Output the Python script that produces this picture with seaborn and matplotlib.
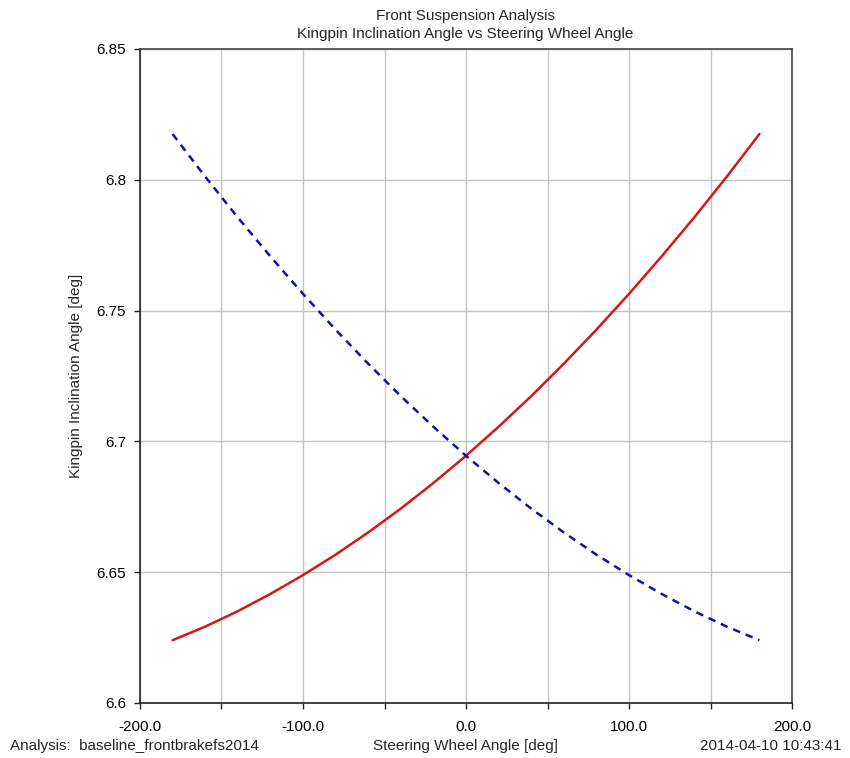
import matplotlib
matplotlib.use("Agg")
import matplotlib.pyplot as plt
import pandas as pd
import seaborn as sns

# steering wheel angle [deg]
steer = [-180, -160, -140, -120, -100, -80, -60, -40, -20, 0,
         20, 40, 60, 80, 100, 120, 140, 160, 180]
# kingpin inclination angle [deg], left (red solid) and right (blue dashed)
kpi_red = [6.6240, 6.6292, 6.6351, 6.6417, 6.6489, 6.6567, 6.6652, 6.6743, 6.6841, 6.6945,
           6.7056, 6.7173, 6.7297, 6.7427, 6.7564, 6.7707, 6.7856, 6.8012, 6.8175]
kpi_blue = [6.8175, 6.8012, 6.7856, 6.7707, 6.7564, 6.7427, 6.7297, 6.7173, 6.7056, 6.6945,
            6.6841, 6.6743, 6.6652, 6.6567, 6.6489, 6.6417, 6.6351, 6.6292, 6.6240]

x_ticks = [-200, -150, -100, -50, 0, 50, 100, 150, 200]
x_labels = ["-200.0", "", "-100.0", "", "0.0", "", "100.0", "", "200.0"]
y_ticks = [6.6, 6.65, 6.7, 6.75, 6.8, 6.85]
y_labels = ["6.6", "6.65", "6.7", "6.75", "6.8", "6.85"]

sns.set_style("white")
plt.rcParams["font.family"] = ["Liberation Sans", "DejaVu Sans"]

df = pd.DataFrame({"steer": steer, "red": kpi_red, "blue": kpi_blue})

fig = plt.figure(figsize=(8.5, 7.58), dpi=100)
ax = fig.add_axes([140 / 850, 55 / 758, 652 / 850, 654 / 758])

sns.lineplot(data=df, x="steer", y="red", ax=ax, color="#d41818", linewidth=1.8)
sns.lineplot(data=df, x="steer", y="blue", ax=ax, color="#1010b0", linewidth=1.8,
             linestyle=(0, (3.0, 2.4)))

ax.set_xlim(-200, 200)
ax.set_ylim(6.6, 6.85)
ax.set_xticks(x_ticks)
ax.set_xticklabels(x_labels)
ax.set_yticks(y_ticks)
ax.set_yticklabels(y_labels)
ax.grid(True, color="#c4c4c4", linewidth=1.0)
ax.tick_params(axis="both", direction="out", length=4, width=1, colors="#222222",
               labelsize=11, labelcolor="black", pad=6, bottom=True, left=True)
ax.tick_params(axis="x", pad=8)
for side, sp in ax.spines.items():
    sp.set_color("#222222" if side in ("left", "bottom") else "#444444")
    sp.set_linewidth(1.2)

ax.set_xlabel("")
ax.set_ylabel("Kingpin Inclination Angle [deg]", fontsize=11, labelpad=10)

fig.text(465 / 850, 1 - 16 / 758, "Front Suspension Analysis", ha="center", va="center", fontsize=11)
fig.text(465 / 850, 1 - 34 / 758, "Kingpin Inclination Angle vs Steering Wheel Angle",
         ha="center", va="center", fontsize=11)
fig.text(10 / 850, 1 - 746 / 758, "Analysis:  baseline_frontbrakefs2014", ha="left", va="center", fontsize=11)
fig.text(465 / 850, 1 - 746 / 758, "Steering Wheel Angle [deg]", ha="center", va="center", fontsize=11)
fig.text(842 / 850, 1 - 746 / 758, "2014-04-10 10:43:41", ha="right", va="center", fontsize=11)

fig.savefig("out.png", dpi=100)
